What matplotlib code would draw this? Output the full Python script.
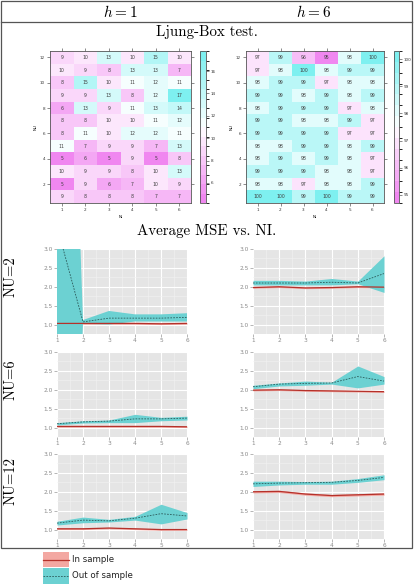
import numpy as np
import matplotlib
matplotlib.use("Agg")
import matplotlib.pyplot as plt
from matplotlib.colors import LinearSegmentedColormap, BoundaryNorm
from matplotlib.patches import Rectangle
import matplotlib.colorbar as mcolorbar

# --- data: Ljung-Box heatmaps (rows NU=12 at top down to NU=1) ---
ni = [1, 2, 3, 4, 5, 6]
nu = list(range(1, 13))
lb_h1 = [
    [9, 10, 13, 10, 15, 10],
    [10, 9, 8, 13, 13, 7],
    [8, 15, 10, 11, 12, 11],
    [9, 9, 13, 8, 12, 17],
    [6, 13, 9, 11, 13, 14],
    [8, 8, 10, 10, 11, 12],
    [8, 11, 10, 12, 12, 11],
    [11, 7, 9, 9, 7, 13],
    [5, 6, 5, 9, 5, 8],
    [10, 9, 9, 8, 10, 13],
    [5, 9, 6, 7, 10, 9],
    [9, 8, 8, 8, 7, 7],
]
lb_h6 = [
    [97, 99, 96, 95, 98, 100],
    [97, 98, 100, 98, 99, 99],
    [98, 99, 99, 97, 98, 98],
    [99, 99, 98, 99, 98, 99],
    [98, 99, 99, 99, 97, 98],
    [99, 99, 98, 98, 99, 97],
    [99, 99, 99, 99, 97, 97],
    [98, 98, 99, 99, 98, 99],
    [98, 99, 98, 99, 98, 97],
    [99, 99, 99, 98, 98, 97],
    [98, 98, 97, 98, 98, 99],
    [100, 100, 99, 100, 99, 99],
]
cb_ticks_h1 = [6, 8, 10, 12, 14, 16]
cb_ticks_h6 = [95, 96, 97, 98, 99, 100]

# --- data: average MSE vs NI ---
nu2_h1_in = [1.03, 1.03, 1.03, 1.03, 1.02, 1.03]
nu2_h1_in_lo = [1.01, 1.01, 1.01, 1.01, 1.00, 1.01]
nu2_h1_in_hi = [1.05, 1.05, 1.05, 1.05, 1.04, 1.05]
nu2_h1_out = [3.60, 1.07, 1.17, 1.17, 1.17, 1.19]
nu2_h1_out_lo = [-13.4, 1.02, 1.00, 1.08, 1.08, 1.08]
nu2_h1_out_hi = [20.6, 1.12, 1.36, 1.27, 1.27, 1.30]

nu2_h6_in = [1.98, 2.00, 1.97, 1.98, 2.00, 1.99]
nu2_h6_in_lo = [1.96, 1.98, 1.95, 1.96, 1.98, 1.97]
nu2_h6_in_hi = [2.00, 2.02, 1.99, 2.00, 2.02, 2.01]
nu2_h6_out = [2.10, 2.10, 2.10, 2.12, 2.10, 2.35]
nu2_h6_out_lo = [2.05, 2.05, 2.05, 2.05, 2.08, 1.85]
nu2_h6_out_hi = [2.17, 2.17, 2.15, 2.22, 2.15, 2.82]

nu6_h1_in = [1.03, 1.03, 1.03, 1.03, 1.03, 1.02]
nu6_h1_in_lo = [1.01, 1.01, 1.01, 1.01, 1.01, 1.00]
nu6_h1_in_hi = [1.05, 1.05, 1.05, 1.05, 1.05, 1.04]
nu6_h1_out = [1.10, 1.15, 1.17, 1.23, 1.23, 1.25]
nu6_h1_out_lo = [1.07, 1.12, 1.13, 1.13, 1.18, 1.20]
nu6_h1_out_hi = [1.13, 1.18, 1.20, 1.35, 1.27, 1.30]

nu6_h6_in = [1.99, 2.00, 1.98, 1.97, 1.96, 1.95]
nu6_h6_in_lo = [1.97, 1.98, 1.96, 1.95, 1.94, 1.93]
nu6_h6_in_hi = [2.01, 2.02, 2.00, 1.99, 1.98, 1.97]
nu6_h6_out = [2.08, 2.15, 2.17, 2.18, 2.35, 2.23]
nu6_h6_out_lo = [2.03, 2.10, 2.12, 2.15, 2.05, 2.15]
nu6_h6_out_hi = [2.12, 2.18, 2.23, 2.20, 2.63, 2.35]

nu12_h1_in = [1.02, 1.02, 1.04, 1.02, 1.00, 1.00]
nu12_h1_in_lo = [1.00, 1.00, 1.02, 1.00, 0.98, 0.98]
nu12_h1_in_hi = [1.04, 1.04, 1.06, 1.04, 1.02, 1.02]
nu12_h1_out = [1.17, 1.25, 1.23, 1.30, 1.42, 1.36]
nu12_h1_out_lo = [1.12, 1.18, 1.20, 1.25, 1.15, 1.28]
nu12_h1_out_hi = [1.22, 1.33, 1.27, 1.35, 1.67, 1.45]

nu12_h6_in = [2.00, 2.01, 1.94, 1.90, 1.92, 1.94]
nu12_h6_in_lo = [1.97, 1.98, 1.91, 1.87, 1.89, 1.91]
nu12_h6_in_hi = [2.03, 2.04, 1.97, 1.93, 1.95, 1.97]
nu12_h6_out = [2.21, 2.23, 2.24, 2.25, 2.30, 2.38]
nu12_h6_out_lo = [2.14, 2.18, 2.20, 2.20, 2.25, 2.32]
nu12_h6_out_hi = [2.28, 2.28, 2.27, 2.28, 2.35, 2.45]

row_labels = ["NU=2", "NU=6", "NU=12"]
col_labels = [r"$h=1$", r"$h=6$"]

W, H = 415, 584
plt.rcParams["mathtext.fontset"] = "cm"
SERIF = "cmr10"
fig = plt.figure(figsize=(W / 100, H / 100), dpi=100)


def px_axes(x0, y0, x1, y1, **kw):
    return fig.add_axes([x0 / W, 1 - y1 / H, (x1 - x0) / W, (y1 - y0) / H], **kw)


# background layer for table lines and headings
bg = px_axes(0, 0, W, H)
bg.set_xlim(0, W)
bg.set_ylim(H, 0)
bg.axis("off")
bg.add_patch(Rectangle((1, 1), 411, 547, fill=False, lw=0.9, ec="#555555"))
bg.plot([1, 412], [22, 22], color="#555555", lw=0.9)
bg.text(120, 12, col_labels[0], ha="center", va="center", fontsize=11)
bg.text(314, 12, col_labels[1], ha="center", va="center", fontsize=11)
bg.text(207, 32, "Ljung-Box test.", ha="center", va="center", fontsize=10.8, family=SERIF)
bg.text(207, 231, "Average MSE vs. NI.", ha="center", va="center", fontsize=10.8, family=SERIF)
for lab, yc in zip(row_labels, [277, 380, 481]):
    bg.text(11, yc, lab, ha="center", va="center", rotation=90, fontsize=10.5, family=SERIF)

# --- heatmaps ---
cmap = LinearSegmentedColormap.from_list("mw_c", ["#f087f0", "#ffffff", "#7ef0f0"])


def heatmap(vals, box, cbox, lo, hi, nlev, ticks):
    ax = px_axes(*box)
    cax = px_axes(*cbox)
    arr = np.array(vals)[::-1]
    bounds = np.linspace(lo, hi, nlev + 1)
    norm = BoundaryNorm(bounds, cmap.N)
    ax.pcolormesh(np.arange(0.5, 7), np.arange(0.5, 13), arr, cmap=cmap, norm=norm)
    for i in range(12):
        for j in range(6):
            ax.text(j + 1, i + 1, str(arr[i, j]), ha="center", va="center",
                    fontsize=3.3, color="#404040")
    ax.set_xlim(0.5, 6.5)
    ax.set_ylim(0.5, 12.5)
    ax.set_xticks(ni)
    ax.set_yticks(nu[1::2])
    ax.tick_params(top=True, right=True, direction="out", length=2, width=0.4,
                   labelsize=3, colors="#333333", pad=1.5)
    for s in ax.spines.values():
        s.set_linewidth(0.6)
        s.set_color("#555555")
    ax.set_xlabel("NI", fontsize=3, labelpad=2)
    ax.set_ylabel("NU", fontsize=3, labelpad=2)
    cb = mcolorbar.Colorbar(cax, cmap=cmap, norm=norm, boundaries=bounds,
                            ticks=ticks, drawedges=False)
    cb.outline.set_linewidth(0.6)
    cb.outline.set_edgecolor("#555555")
    cax.tick_params(direction="out", length=2, width=0.4, labelsize=3,
                    colors="#333333", pad=1.5)


heatmap(lb_h1, (50, 51, 191, 203), (200, 51, 206, 203), 4.2, 17.8, 16, cb_ticks_h1)
heatmap(lb_h6, (246, 51, 384, 203), (394, 51, 399, 203), 94.7, 100.3, 14, cb_ticks_h6)

# --- MSE panels ---
RED_FILL = "#f3a8a2"
RED_LINE = "#b5312a"
CYAN_FILL = "#6cd1d2"
DASH = "#2b5a5a"

panels = [
    [(nu2_h1_in, nu2_h1_in_lo, nu2_h1_in_hi, nu2_h1_out, nu2_h1_out_lo, nu2_h1_out_hi),
     (nu2_h6_in, nu2_h6_in_lo, nu2_h6_in_hi, nu2_h6_out, nu2_h6_out_lo, nu2_h6_out_hi)],
    [(nu6_h1_in, nu6_h1_in_lo, nu6_h1_in_hi, nu6_h1_out, nu6_h1_out_lo, nu6_h1_out_hi),
     (nu6_h6_in, nu6_h6_in_lo, nu6_h6_in_hi, nu6_h6_out, nu6_h6_out_lo, nu6_h6_out_hi)],
    [(nu12_h1_in, nu12_h1_in_lo, nu12_h1_in_hi, nu12_h1_out, nu12_h1_out_lo, nu12_h1_out_hi),
     (nu12_h6_in, nu12_h6_in_lo, nu12_h6_in_hi, nu12_h6_out, nu12_h6_out_lo, nu12_h6_out_hi)],
]
col_x = [(57, 187), (253, 384)]
row_y = [(249, 334), (352, 437), (454, 539)]

for r, (y0, y1) in enumerate(row_y):
    for c, (x0, x1) in enumerate(col_x):
        ins, ins_lo, ins_hi, out, out_lo, out_hi = panels[r][c]
        ax = px_axes(x0, y0, x1, y1)
        ax.set_facecolor("#e5e5e5")
        ax.set_xlim(1, 6)
        ax.set_ylim(0.75, 3.0)
        ax.set_xticks(ni)
        ax.set_yticks([1.0, 1.5, 2.0, 2.5, 3.0])
        ax.set_yticks([1.25, 1.75, 2.25, 2.75], minor=True)
        ax.set_xticks([1.5, 2.5, 3.5, 4.5, 5.5], minor=True)
        ax.grid(which="major", color="white", lw=0.8)
        ax.grid(which="minor", color="#f2f2f2", lw=0.4)
        ax.set_axisbelow(True)
        for s in ax.spines.values():
            s.set_visible(False)
        ax.tick_params(which="major", length=2, width=0.5, colors="#999999",
                       labelsize=4.2, labelcolor="#8a8a8a", pad=1)
        ax.tick_params(which="minor", length=0)
        ax.yaxis.set_major_formatter(matplotlib.ticker.FormatStrFormatter("%.1f"))
        ax.fill_between(ni, ins_lo, ins_hi, color=RED_FILL, lw=0)
        ax.fill_between(ni, out_lo, out_hi, color=CYAN_FILL, lw=0)
        ax.plot(ni, ins, color=RED_LINE, lw=0.9)
        ax.plot(ni, out, color=DASH, lw=0.6, ls=(0, (2, 1.5)))

# --- legend ---
bg.add_patch(Rectangle((43, 552), 26, 15, color=RED_FILL, lw=0))
bg.plot([43, 69], [559.5, 559.5], color=RED_LINE, lw=0.9)
bg.add_patch(Rectangle((43, 568), 26, 16, color=CYAN_FILL, lw=0))
bg.plot([43, 69], [576, 576], color=DASH, lw=0.6, ls=(0, (2, 1.5)))
bg.text(72, 559.5, "In sample", ha="left", va="center", fontsize=6.2, color="#222222")
bg.text(72, 576, "Out of sample", ha="left", va="center", fontsize=6.2, color="#222222")

fig.savefig("out.png", dpi=100)
